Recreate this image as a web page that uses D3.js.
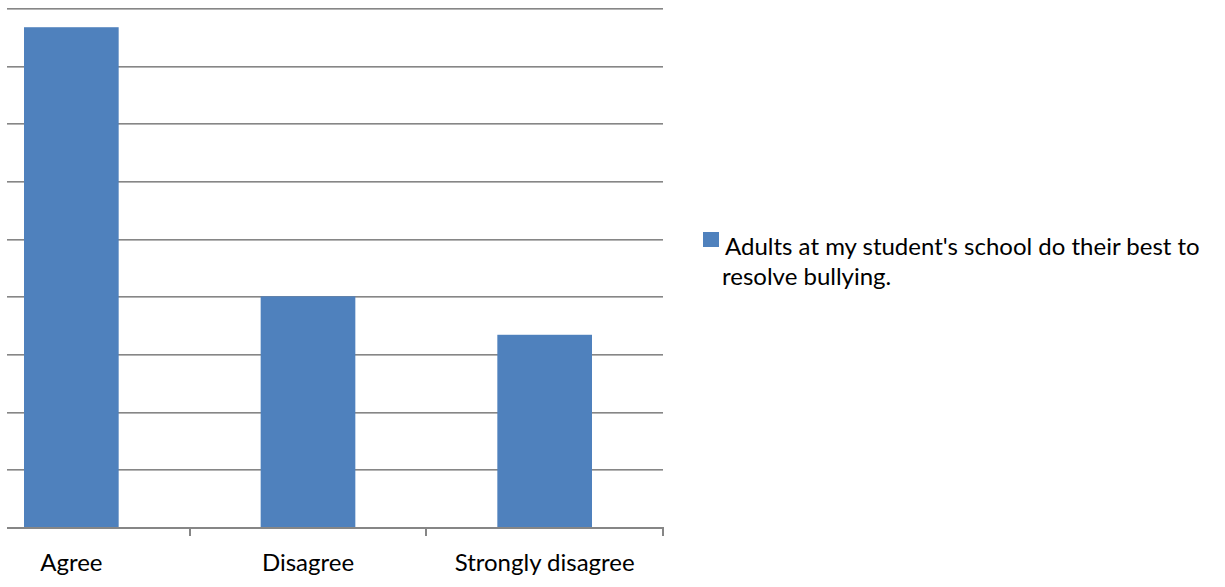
<!DOCTYPE html>
<html><head><meta charset="utf-8">
<script src="https://cdn.jsdelivr.net/npm/d3@7"></script>
<style>html,body{margin:0;padding:0;background:#fff;}svg{display:block;}</style>
</head><body>
<script>
const categories = ["Agree", "Disagree", "Strongly disagree"];
const values = [26, 12, 10];
const yTicks = [0, 3, 6, 9, 12, 15, 18, 21, 24, 27];
const seriesName = "Adults at my student's school do their best to resolve bullying.";
const legendLines = ["Adults at my student's school do their best to", "resolve bullying."];

const W = 1225, H = 587;
const svg = d3.select("body").append("svg").attr("width", W).attr("height", H);
const font = "Lato, 'Open Sans', sans-serif";

const plotLeft = 7, plotRight = 663;
const x = d3.scaleBand().domain(categories).range([-47, 663]).padding(0);
const y = d3.scaleLinear().domain([0, 27]).range([527, 8]);

// gridlines
const grid = svg.append("g");
yTicks.forEach(t => {
  const yy = Math.round(y(t));
  if (t === 0) return;
  grid.append("line").attr("x1", plotLeft).attr("x2", plotRight).attr("y1", yy + 0.5).attr("y2", yy + 0.5)
    .attr("stroke", "#868686").attr("stroke-width", 1);
  grid.append("line").attr("x1", plotLeft).attr("x2", plotRight).attr("y1", yy + 1.5).attr("y2", yy + 1.5)
    .attr("stroke", "#b4b4b4").attr("stroke-width", 1);
});

// bars
const bw = x.bandwidth() * 0.40;
svg.append("g").selectAll("rect").data(values).join("rect")
  .attr("x", (d, i) => x(categories[i]) + x.bandwidth() / 2 - bw / 2)
  .attr("width", bw)
  .attr("y", d => y(d))
  .attr("height", d => y(0) - y(d))
  .attr("fill", "#4F81BD");

// x axis
const axisY = Math.round(y(0)) + 1;
svg.append("line").attr("x1", plotLeft).attr("x2", plotRight + 1).attr("y1", axisY).attr("y2", axisY)
  .attr("stroke", "#868686").attr("stroke-width", 2);
categories.forEach(c => {
  const tx = Math.round(x(c) + x.bandwidth());
  svg.append("line").attr("x1", tx).attr("x2", tx).attr("y1", axisY - 1).attr("y2", axisY + 8)
    .attr("stroke", "#868686").attr("stroke-width", 2);
});
svg.append("g").selectAll("text").data(categories).join("text")
  .attr("x", d => x(d) + x.bandwidth() / 2)
  .attr("y", 571)
  .attr("text-anchor", "middle")
  .attr("font-family", font).attr("font-size", 24).attr("fill", "#000")
  .text(d => d);

// legend
svg.append("rect").attr("x", 703).attr("y", 232).attr("width", 16).attr("height", 15).attr("fill", "#4F81BD");
svg.append("g").selectAll("text").data(legendLines).join("text")
  .attr("x", (d, i) => i === 0 ? 725 : 722)
  .attr("y", (d, i) => 255 + i * 30)
  .attr("font-family", font).attr("font-size", 24).attr("fill", "#000")
  .text(d => d);
</script>
</body></html>
